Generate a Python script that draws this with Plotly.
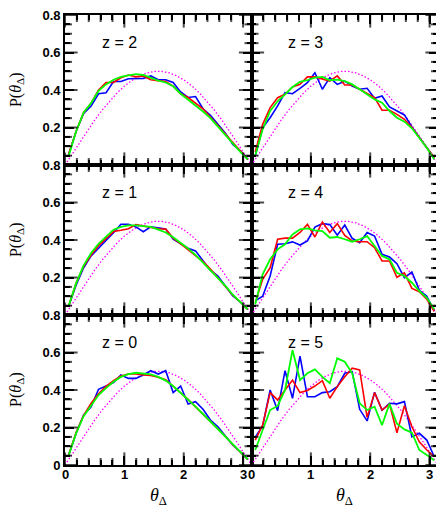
import plotly.graph_objects as go
from plotly.subplots import make_subplots

# bin centres (theta_Delta)
theta = [0.063, 0.188, 0.314, 0.440, 0.565, 0.691, 0.817, 0.942, 1.068, 1.194,
         1.319, 1.445, 1.571, 1.696, 1.822, 1.948, 2.073, 2.199, 2.325, 2.450,
         2.576, 2.702, 2.827, 2.953, 3.079]

# isotropic reference curve (magenta dotted)
theta_ref = [0.000, 0.126, 0.251, 0.377, 0.503, 0.628, 0.754, 0.880, 1.005, 1.131,
             1.257, 1.382, 1.508, 1.634, 1.759, 1.885, 2.011, 2.136, 2.262, 2.388,
             2.513, 2.639, 2.765, 2.890, 3.016, 3.142]
p_ref = [0.0, 0.062, 0.124, 0.184, 0.241, 0.294, 0.342, 0.385, 0.422, 0.452,
         0.475, 0.491, 0.499, 0.499, 0.491, 0.475, 0.452, 0.422, 0.385, 0.342,
         0.294, 0.241, 0.184, 0.124, 0.062, 0.0]

# z = 2
blue_z2 = [0.057, 0.18, 0.275, 0.315, 0.38, 0.385, 0.445, 0.445, 0.46, 0.46, 0.462, 0.475,
           0.455, 0.455, 0.44, 0.39, 0.36, 0.365, 0.30, 0.265, 0.215, 0.17, 0.11, 0.075, 0.03]
red_z2 = [0.06, 0.18, 0.28, 0.33, 0.40, 0.44, 0.44, 0.465, 0.48, 0.47, 0.475, 0.455,
          0.45, 0.445, 0.42, 0.38, 0.36, 0.33, 0.30, 0.255, 0.21, 0.165, 0.115, 0.075, 0.03]
green_z2 = [0.05, 0.18, 0.28, 0.33, 0.395, 0.43, 0.455, 0.47, 0.478, 0.485, 0.48, 0.465,
            0.45, 0.44, 0.42, 0.38, 0.35, 0.32, 0.285, 0.25, 0.205, 0.16, 0.11, 0.07, 0.03]
# z = 3
blue_z3 = [0.048, 0.199, 0.252, 0.315, 0.386, 0.38, 0.409, 0.439, 0.492, 0.404, 0.466, 0.43,
           0.447, 0.421, 0.404, 0.409, 0.356, 0.368, 0.31, 0.288, 0.267, 0.203, 0.146, 0.092, 0.039]
red_z3 = [0.07, 0.217, 0.306, 0.359, 0.377, 0.416, 0.43, 0.47, 0.47, 0.457, 0.447, 0.475,
          0.427, 0.427, 0.404, 0.38, 0.359, 0.292, 0.292, 0.27, 0.244, 0.2, 0.146, 0.092, 0.039]
green_z3 = [0.05, 0.19, 0.288, 0.34, 0.377, 0.416, 0.444, 0.452, 0.466, 0.47, 0.452, 0.455,
            0.447, 0.43, 0.404, 0.377, 0.35, 0.332, 0.288, 0.252, 0.231, 0.196, 0.146, 0.092, 0.03]
# z = 1
blue_z1 = [0.048, 0.16, 0.252, 0.315, 0.356, 0.395, 0.439, 0.484, 0.484, 0.47, 0.444, 0.47,
           0.464, 0.459, 0.404, 0.38, 0.356, 0.342, 0.292, 0.238, 0.208, 0.155, 0.101, 0.07, 0.03]
red_z1 = [0.05, 0.17, 0.26, 0.32, 0.37, 0.41, 0.445, 0.452, 0.46, 0.482, 0.475, 0.465,
          0.46, 0.458, 0.41, 0.38, 0.35, 0.32, 0.285, 0.245, 0.20, 0.155, 0.105, 0.07, 0.03]
green_z1 = [0.05, 0.17, 0.265, 0.33, 0.38, 0.42, 0.455, 0.47, 0.478, 0.478, 0.475, 0.47,
            0.455, 0.44, 0.415, 0.385, 0.355, 0.32, 0.28, 0.24, 0.20, 0.155, 0.108, 0.07, 0.03]
# z = 4
blue_z4 = [0.075, 0.10, 0.208, 0.377, 0.38, 0.39, 0.373, 0.395, 0.469, 0.487, 0.483, 0.426,
           0.48, 0.409, 0.386, 0.44, 0.421, 0.324, 0.309, 0.274, 0.199, 0.229, 0.132, 0.10, 0.02]
red_z4 = [0.066, 0.19, 0.252, 0.404, 0.41, 0.41, 0.44, 0.483, 0.416, 0.496, 0.44, 0.487,
          0.424, 0.395, 0.391, 0.391, 0.359, 0.288, 0.288, 0.201, 0.225, 0.142, 0.124, 0.084, 0.02]
green_z4 = [0.057, 0.217, 0.297, 0.35, 0.377, 0.43, 0.457, 0.462, 0.451, 0.448, 0.412, 0.416,
            0.404, 0.391, 0.404, 0.421, 0.368, 0.315, 0.297, 0.225, 0.208, 0.172, 0.128, 0.092, 0.03]
# z = 0
blue_z0 = [0.053, 0.169, 0.267, 0.311, 0.404, 0.421, 0.439, 0.48, 0.462, 0.462, 0.48, 0.503,
           0.485, 0.503, 0.386, 0.421, 0.325, 0.338, 0.297, 0.24, 0.204, 0.155, 0.107, 0.07, 0.03]
red_z0 = [0.055, 0.175, 0.265, 0.33, 0.38, 0.42, 0.45, 0.475, 0.485, 0.485, 0.48, 0.478,
          0.468, 0.455, 0.42, 0.385, 0.35, 0.31, 0.27, 0.232, 0.195, 0.152, 0.108, 0.07, 0.03]
green_z0 = [0.053, 0.17, 0.26, 0.32, 0.373, 0.41, 0.444, 0.47, 0.485, 0.492, 0.488, 0.483,
            0.47, 0.45, 0.421, 0.386, 0.35, 0.311, 0.272, 0.231, 0.195, 0.151, 0.107, 0.07, 0.03]
# z = 5
blue_z5 = [0.148, 0.208, 0.40, 0.29, 0.503, 0.356, 0.581, 0.364, 0.364, 0.386, 0.391, 0.418,
           0.489, 0.498, 0.297, 0.235, 0.388, 0.293, 0.329, 0.326, 0.338, 0.15, 0.169, 0.133, 0.044]
red_z5 = [0.133, 0.213, 0.386, 0.347, 0.40, 0.453, 0.386, 0.397, 0.421, 0.45, 0.356, 0.418,
          0.471, 0.516, 0.507, 0.254, 0.386, 0.293, 0.325, 0.172, 0.316, 0.204, 0.124, 0.08, 0.044]
green_z5 = [0.08, 0.187, 0.293, 0.315, 0.40, 0.613, 0.453, 0.489, 0.51, 0.47, 0.436, 0.569,
            0.551, 0.489, 0.329, 0.293, 0.311, 0.213, 0.326, 0.22, 0.19, 0.172, 0.08, 0.053, 0.025]

panels = [
    (1, 1, "z = 2", blue_z2, red_z2, green_z2),
    (1, 2, "z = 3", blue_z3, red_z3, green_z3),
    (2, 1, "z = 1", blue_z1, red_z1, green_z1),
    (2, 2, "z = 4", blue_z4, red_z4, green_z4),
    (3, 1, "z = 0", blue_z0, red_z0, green_z0),
    (3, 2, "z = 5", blue_z5, red_z5, green_z5),
]

# tick positions / labels
x_tickvals = [0, 1, 2, 3]
x_ticktext = ["0", "1", "2", "3"]
x_minorvals = [0.2, 0.4, 0.6, 0.8, 1.2, 1.4, 1.6, 1.8, 2.2, 2.4, 2.6, 2.8, 3.0]
y_tickvals = [0, 0.2, 0.4, 0.6, 0.8]
y_ticktext = ["0", "0.2", "0.4", "0.6", "0.8"]
y_minorvals = [0.05, 0.1, 0.15, 0.25, 0.3, 0.35, 0.45, 0.5, 0.55, 0.65, 0.7, 0.75]

X_MAX, Y_MAX = 3.1416, 0.8

# the page adds an 8px body margin, so the figure is made 8px smaller
W, H = 436, 504
ML, MR, MT, MB = 57, 6, 7, 47
MAJ, MIN = 9, 5
TW = 2

fig = make_subplots(rows=3, cols=2, horizontal_spacing=0, vertical_spacing=0)

tick_font = dict(family="Liberation Sans, Arial, sans-serif", size=13, color="black")


def tick_markers():
    """Tick marks as line markers centred on the frame; clipping keeps the inside half."""
    vx, vy, vs = [], [], []   # vertical ticks (on x axes)
    hx, hy, hs = [], [], []   # horizontal ticks (on y axes)
    for vals, ln in ((x_tickvals, MAJ), (x_minorvals, MIN)):
        for v in vals:
            for edge in (0, Y_MAX):
                vx.append(v); vy.append(edge); vs.append(2 * ln)
    for vals, ln in ((y_tickvals, MAJ), (y_minorvals, MIN)):
        for v in vals:
            for edge in (0, X_MAX):
                hx.append(edge); hy.append(v); hs.append(2 * ln)
    return (vx, vy, vs), (hx, hy, hs)


(vx, vy, vs), (hx, hy, hs) = tick_markers()

for i, (r, c, label, b, rd, g) in enumerate(panels):
    fig.add_trace(go.Scatter(x=theta_ref, y=p_ref, mode="lines",
                             line=dict(color="#ff00ff", width=1.3, dash="1.5px,2px"),
                             showlegend=False, hoverinfo="skip"), row=r, col=c)
    fig.add_trace(go.Scatter(x=theta, y=b, mode="lines",
                             line=dict(color="#0000ff", width=1.6), showlegend=False), row=r, col=c)
    fig.add_trace(go.Scatter(x=theta, y=rd, mode="lines",
                             line=dict(color="#ff0000", width=1.6), showlegend=False), row=r, col=c)
    fig.add_trace(go.Scatter(x=theta, y=g, mode="lines",
                             line=dict(color="#00ff00", width=1.8), showlegend=False), row=r, col=c)
    fig.add_trace(go.Scatter(x=vx, y=vy, mode="markers", cliponaxis=True, hoverinfo="skip",
                             marker=dict(symbol="line-ns", size=vs, color="black",
                                         line=dict(color="black", width=TW)),
                             showlegend=False), row=r, col=c)
    fig.add_trace(go.Scatter(x=hx, y=hy, mode="markers", cliponaxis=True, hoverinfo="skip",
                             marker=dict(symbol="line-ew", size=hs, color="black",
                                         line=dict(color="black", width=TW)),
                             showlegend=False), row=r, col=c)

    ytext = ["<b>%s</b>" % t for t in y_ticktext]
    if r != 3:
        ytext[0] = " "

    fig.update_xaxes(row=r, col=c, range=[0, X_MAX], tickmode="array", tickvals=x_tickvals,
                     ticks="inside", ticklen=MAJ, tickwidth=TW, tickcolor="black",
                     minor=dict(tickmode="array", tickvals=x_minorvals, ticks="inside",
                                ticklen=MIN, tickwidth=TW, tickcolor="black", showgrid=False),
                     showline=True, linewidth=1.6, linecolor="black", mirror="allticks",
                     showgrid=False, zeroline=False, showticklabels=False)
    fig.update_yaxes(row=r, col=c, range=[0, Y_MAX], tickmode="array", tickvals=y_tickvals,
                     ticktext=ytext, ticklabeloverflow="allow",
                     ticks="inside", ticklen=MAJ, tickwidth=TW, tickcolor="black",
                     minor=dict(tickmode="array", tickvals=y_minorvals, ticks="inside",
                                ticklen=MIN, tickwidth=TW, tickcolor="black", showgrid=False),
                     showline=True, linewidth=1.6, linecolor="black", mirror="allticks",
                     showgrid=False, zeroline=False, showticklabels=(c == 1),
                     tickfont=tick_font)

    axn = "" if i == 0 else str(i + 1)
    xa, ya = "x" + axn, "y" + axn

    # x tick labels on bottom row
    if r == 3:
        for v, t in zip(x_tickvals, x_ticktext):
            fig.add_annotation(x=v, y=-10.0 / (H - MT - MB), xref=xa, yref="paper",
                               text="<b>%s</b>" % t, showarrow=False,
                               xanchor="center", yanchor="middle",
                               font=tick_font)

    fig.add_annotation(x=0.917, y=0.655, xref=xa, yref=ya, text=label,
                       showarrow=False,
                       font=dict(family="Liberation Sans, Arial, sans-serif", size=16, color="black"))

ytitle = "P(<i>θ</i><sub>Δ</sub>)"
for yc in [0.8344, 0.501, 0.168]:
    fig.add_annotation(x=-0.130, y=yc, xref="paper", yref="paper", text=ytitle,
                       textangle=-90, showarrow=False, xanchor="center", yanchor="middle",
                       font=dict(family="Liberation Serif, Times New Roman, serif", size=16, color="black"))
for xc in [0.25, 0.75]:
    fig.add_annotation(x=xc, y=-0.0711, xref="paper", yref="paper", text="<i>θ</i><sub>Δ</sub>",
                       showarrow=False, xanchor="center", yanchor="middle",
                       font=dict(family="Liberation Serif, Times New Roman, serif", size=18, color="black"))

fig.update_layout(width=W, height=H, margin=dict(l=ML, r=MR, t=MT, b=MB),
                  plot_bgcolor="white", paper_bgcolor="white", showlegend=False,
                  template="none")

fig.write_html("out.html")
